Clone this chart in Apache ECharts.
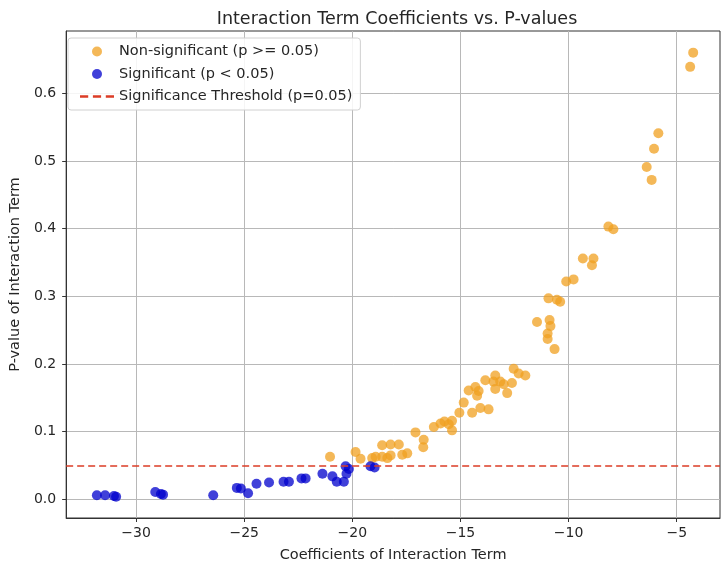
<!DOCTYPE html>
<html>
<head>
<meta charset="utf-8">
<script src="https://cdn.jsdelivr.net/npm/echarts@6/dist/echarts.min.js"></script>
<style>
  html, body { margin: 0; padding: 0; background: #ffffff; }
  #chart { width: 724px; height: 570px; }
</style>
</head>
<body>
<div id="chart"></div>
<script>
// Non-significant interaction terms (p >= 0.05)
const nonSigCoef = [
  -21.03, -19.85, -19.62, -19.08, -18.92, -18.62, -18.38, -18.23,
  -18.62, -18.23, -17.85, -17.69, -17.46, -17.08, -16.70, -16.72,
  -16.23, -15.92, -15.74, -15.54, -15.39, -15.39, -15.05, -14.85,
  -14.46, -14.08, -13.70, -14.62, -14.31, -14.16, -14.23, -13.85,
  -13.47, -13.39, -13.16, -13.00, -13.39, -12.84, -12.62, -12.54,
  -12.31, -12.00, -11.46, -10.93, -10.54, -10.39, -10.88, -10.84,
  -10.97, -10.97, -10.65, -10.11, -9.77, -9.34, -8.85, -8.92,
  -8.16, -7.93, -6.39, -6.16, -6.05, -5.85, -4.38, -4.24
];
const nonSigP = [
  0.063, 0.070, 0.060, 0.061, 0.063, 0.063, 0.061, 0.065,
  0.080, 0.081, 0.081, 0.066, 0.068, 0.099, 0.088, 0.077,
  0.107, 0.112, 0.115, 0.111, 0.116, 0.102, 0.128, 0.143,
  0.128, 0.135, 0.133, 0.161, 0.166, 0.160, 0.153, 0.176,
  0.174, 0.183, 0.174, 0.170, 0.163, 0.157, 0.172, 0.193,
  0.186, 0.183, 0.262, 0.297, 0.295, 0.292, 0.265, 0.256,
  0.245, 0.237, 0.222, 0.322, 0.325, 0.356, 0.356, 0.346,
  0.403, 0.399, 0.491, 0.472, 0.518, 0.541, 0.639, 0.660
];

// Significant interaction terms (p < 0.05)
const sigCoef = [
  -31.81, -31.43, -31.02, -30.92, -29.11, -28.85, -28.75, -26.43,
  -25.34, -25.15, -24.82, -24.43, -23.85, -23.18, -22.93, -22.35,
  -22.16, -21.38, -20.92, -20.72, -20.39, -20.31, -20.27, -20.16,
  -19.16, -18.97
];
const sigP = [
  0.006, 0.006, 0.005, 0.004, 0.011, 0.008, 0.007, 0.006,
  0.017, 0.016, 0.009, 0.023, 0.025, 0.026, 0.026, 0.031,
  0.031, 0.038, 0.034, 0.026, 0.026, 0.049, 0.038, 0.045,
  0.049, 0.047
];

const threshold = 0.05;
const xTicks = [-30, -25, -20, -15, -10, -5];
const yTicks = [0.0, 0.1, 0.2, 0.3, 0.4, 0.5, 0.6];

const zip = (xs, ys) => xs.map((x, i) => [x, ys[i]]);
const FONT = 'DejaVu Sans';
const TEXT = '#262626';
const LINE_RED = '#dc3c26';
// short dashed segment used as the legend key of the threshold line
const DASH_ICON = 'path://M0,0h7v2h-7z M11,0h7v2h-7z M22,0h7v2h-7z';

const chart = echarts.init(document.getElementById('chart'), null, { renderer: 'canvas' });

chart.setOption({
  backgroundColor: '#ffffff',
  animation: false,
  title: {
    text: 'Interaction Term Coefficients vs. P-values',
    left: 392,
    textAlign: 'center',
    top: 5,
    textStyle: { fontFamily: FONT, fontSize: 17.5, fontWeight: 'normal', color: TEXT }
  },
  grid: {
    left: 65, right: 4, top: 31, bottom: 52,
    show: true, borderColor: '#333', borderWidth: 1, backgroundColor: 'transparent'
  },
  legend: {
    orient: 'vertical',
    left: 68, top: 38,
    padding: [6, 8, 6, 12],
    itemWidth: 34, itemHeight: 10, itemGap: 7.5,
    backgroundColor: 'rgba(255,255,255,0.85)',
    borderColor: '#d0d0d0', borderWidth: 1, borderRadius: 3,
    textStyle: { fontFamily: FONT, fontSize: 14.5, color: TEXT },
    data: [
      { name: 'Non-significant (p >= 0.05)', icon: 'circle' },
      { name: 'Significant (p < 0.05)', icon: 'circle' },
      { name: 'Significance Threshold (p=0.05)', icon: DASH_ICON, itemStyle: { color: LINE_RED } }
    ]
  },
  xAxis: {
    type: 'value',
    min: -33.23, max: -3.0,
    name: 'Coefficients of Interaction Term',
    nameLocation: 'middle', nameGap: 30,
    nameTextStyle: { fontFamily: FONT, fontSize: 14.5, color: TEXT },
    axisLine: { show: true, onZero: false, lineStyle: { color: '#333', width: 1 } },
    axisTick: { show: true, length: 4, customValues: xTicks, lineStyle: { color: '#333' } },
    axisLabel: {
      customValues: xTicks, margin: 8,
      fontFamily: FONT, fontSize: 14, color: TEXT,
      formatter: v => String(v).replace('-', '\u2212')
    },
    splitLine: { show: true, lineStyle: { color: '#b8b8b8', width: 1 } }
  },
  yAxis: {
    type: 'value',
    min: -0.0275, max: 0.692,
    name: 'P-value of Interaction Term',
    nameLocation: 'middle', nameGap: 38, nameRotate: 90,
    nameTextStyle: { fontFamily: FONT, fontSize: 14.5, color: TEXT },
    axisLine: { show: true, onZero: false, lineStyle: { color: '#333', width: 1 } },
    axisTick: { show: true, length: 4, customValues: yTicks, lineStyle: { color: '#333' } },
    axisLabel: {
      customValues: yTicks, margin: 10,
      fontFamily: FONT, fontSize: 14, color: TEXT,
      formatter: v => v.toFixed(1)
    },
    splitLine: { show: true, lineStyle: { color: '#b8b8b8', width: 1 } }
  },
  series: [
    {
      name: 'Non-significant (p >= 0.05)',
      type: 'scatter',
      symbolSize: 10,
      itemStyle: { color: '#f0a020', opacity: 0.75 },
      data: zip(nonSigCoef, nonSigP)
    },
    {
      name: 'Significant (p < 0.05)',
      type: 'scatter',
      symbolSize: 10,
      itemStyle: { color: '#0000cc', opacity: 0.75 },
      data: zip(sigCoef, sigP)
    },
    {
      name: 'Significance Threshold (p=0.05)',
      type: 'line',
      symbol: 'none',
      data: [],
      itemStyle: { color: LINE_RED },
      lineStyle: { color: LINE_RED, width: 1.6, type: [7, 4] },
      markLine: {
        silent: true,
        symbol: 'none',
        label: { show: false },
        lineStyle: { color: LINE_RED, width: 1.6, type: [7, 4] },
        data: [{ yAxis: threshold }]
      }
    }
  ]
});
</script>
</body>
</html>
